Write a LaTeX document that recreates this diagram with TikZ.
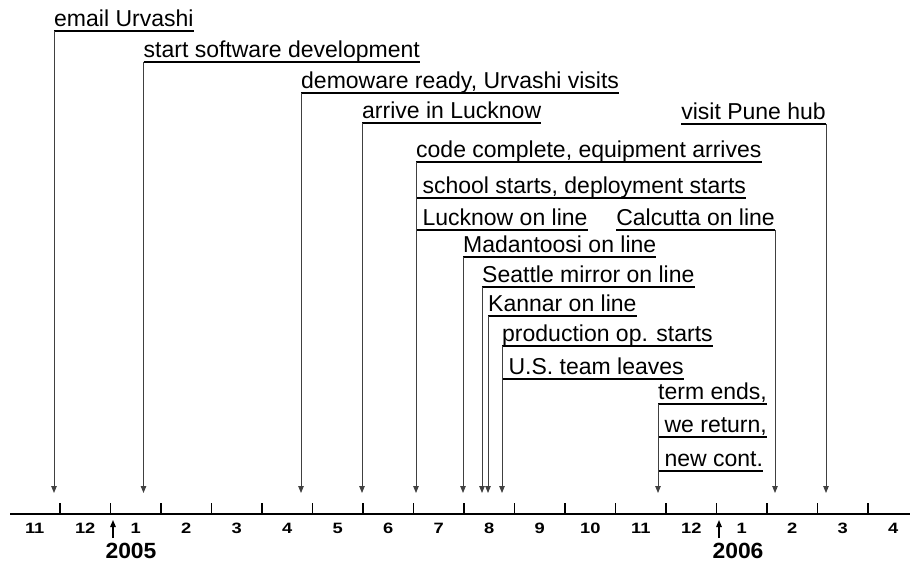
\documentclass[tikz,border=0pt]{standalone}
\usepackage{fontspec}
\setmainfont{Liberation Sans}
\newfontfamily\monthfont[FakeStretch=1.22]{Liberation Sans}
\newfontfamily\yearfont[FakeStretch=1.04]{Liberation Sans}
\usetikzlibrary{arrows.meta}
\begin{document}
\begin{tikzpicture}[x=1pt,y=-1pt,
  lbl/.style={anchor=south west, inner sep=0pt, text depth=4pt,
              font=\fontsize{23}{27}\selectfont},
  lblr/.style={lbl, anchor=south east},
  ul/.style={line width=1.8pt, black},
  evt/.style={line width=0.9pt, black!75,
              -{Triangle[width=5.5pt,length=7pt]}},
  axisline/.style={line width=1.8pt, black},
  tickmark/.style={line width=1.6pt, black},
  month/.style={anchor=base, inner sep=0pt,
              font=\monthfont\bfseries\fontsize{15}{18}\selectfont},
  year/.style={anchor=base, inner sep=0pt,
              font=\yearfont\bfseries\fontsize{22}{26}\selectfont},
  yeararrow/.style={line width=1.4pt, black,
              -{Triangle[width=5.5pt,length=7pt]}}]
\useasboundingbox (0,0) rectangle (910,562);

% level where the event arrows end, just above the time axis
\coordinate (tipline) at (0,493);

% time axis with month boundaries
\coordinate (axL) at (10,514);
\coordinate (axR) at (910,514);
\draw[axisline] (axL) -- (axR);
\foreach \k in {0,...,16}
  \draw[tickmark] ({60+50.5*\k},503) -- ({60+50.5*\k},514);

% month numbers
\foreach \k/\m in {-1/11,0/12,1/1,2/2,3/3,4/4,5/5,6/6,7/7,8/8,9/9,10/10,11/11,12/12,13/1,14/2,15/3,16/4}
  \node[month] (m\k) at ({60+50.5*(\k+0.5)},533.5) {\m};

% year markers
\node[year] (y2005) at (131,558.5) {2005};
\node[year] (y2006) at (738,558.5) {2006};
\coordinate (y2005tip) at (113,520);
\coordinate (y2006tip) at (719,520);
\draw[yeararrow] (y2005tip |- 0,538) -- (y2005tip);
\draw[yeararrow] (y2006tip |- 0,538) -- (y2006tip);

% event labels (underlined)
\node[lbl]  (email)    at (54,31)   {email Urvashi};
\node[lbl]  (soft)     at (143.5,62) {start software development};
\node[lbl]  (demo)     at (301,93)  {demoware ready, Urvashi visits};
\node[lbl]  (arrive)   at (362,123) {arrive in Lucknow};
\node[lblr] (pune)     at (826,124) {visit Pune hub};
\node[lbl]  (code)     at (416,162) {code complete, equipment arrives};
\node[lbl]  (school)   at (416,198) {\ school starts, deployment starts};
\node[lbl]  (lucknow)  at (416,230) {\ Lucknow on line};
\node[lblr] (calcutta) at (775,230) {Calcutta on line};
\node[lbl]  (mada)     at (463,257) {Madantoosi on line};
\node[lbl]  (seattle)  at (482,287) {Seattle mirror on line};
\node[lbl]  (kannar)   at (488,316) {Kannar on line};
\node[lbl]  (prod)     at (502,346) {production op. starts};
\node[lbl]  (usteam)   at (502,379) {\ U.S. team leaves};
\node[lbl]  (term)     at (658,404) {term ends,};
\node[lbl]  (wereturn) at (658,437) {\ we return,};
\node[lbl]  (newcont)  at (658,471) {\ new cont.};

\foreach \n in {email,soft,demo,arrive,pune,code,school,lucknow,calcutta,
                mada,seattle,kannar,prod,usteam,term,wereturn,newcont}
  \draw[ul] (\n.south west) -- (\n.south east);

% arrows from each label down to its date
\foreach \n in {email,soft,demo,arrive,code,mada,seattle,kannar,prod,term}
  \draw[evt] (\n.south west) -- (\n.south west |- tipline);
\foreach \n in {pune,calcutta}
  \draw[evt] (\n.south east) -- (\n.south east |- tipline);
\end{tikzpicture}
\end{document}
